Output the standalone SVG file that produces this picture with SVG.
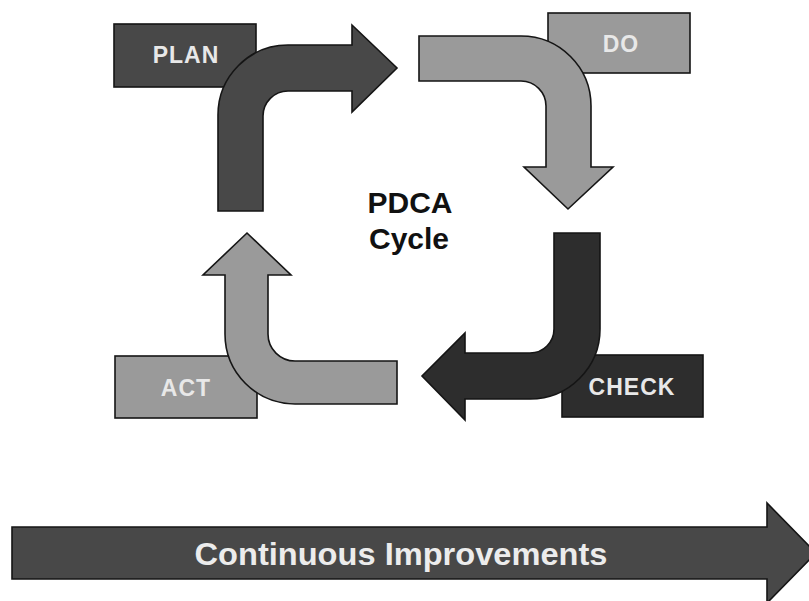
<svg xmlns="http://www.w3.org/2000/svg" width="809" height="601" viewBox="0 0 809 601">
<style>
.box{stroke:#151515;stroke-width:1.6}
.dark{fill:#484848}
.darker{fill:#2d2d2d}
.light{fill:#9a9a9a}
.arr{stroke:#151515;stroke-width:1.6;stroke-linejoin:miter}
.lbl{font-family:"Liberation Sans",Arial,sans-serif;font-weight:bold;font-size:23px;fill:#e8e8e8;text-anchor:middle;letter-spacing:1px}
.ttl{font-family:"Liberation Sans",Arial,sans-serif;font-weight:bold;font-size:30px;fill:#111;text-anchor:middle}
</style>
<rect width="809" height="601" fill="#ffffff"/>
<g id="plan">
<rect class="box dark" x="114" y="24" width="142" height="63"/>
<text class="lbl" x="186" y="63">PLAN</text>
</g>
<g id="do">
<rect class="box light" x="548" y="13" width="142" height="60"/>
<text class="lbl" x="621" y="52">DO</text>
</g>
<g id="check">
<rect class="box darker" x="562" y="355" width="141" height="62"/>
<text class="lbl" x="632" y="395">CHECK</text>
</g>
<g id="act">
<rect class="box light" x="115" y="356" width="142" height="62"/>
<text class="lbl" x="186" y="396">ACT</text>
</g>
<g id="connectors">
<path class="arr dark" d="M218 211 L218 115 A70 70 0 0 1 288 45 L352 45 L352 25 L397 68 L352 112 L352 91 L288 91 A25 25 0 0 0 263 116 L263 211 Z"/>
<path class="arr light" d="M419 36 L521 36 A70 70 0 0 1 591 106 L591 167 L613 167 L568 209 L524 167 L546 167 L546 106 A25 25 0 0 0 521 81 L419 81 Z"/>
<path class="arr darker" d="M554 233 L600 233 L600 329 A70 70 0 0 1 530 399 L465 399 L465 420 L422 376 L465 333 L465 353 L530 353 A24 24 0 0 0 554 329 Z"/>
<path class="arr light" d="M397 361 L397 404 L295 404 A70 70 0 0 1 225 334 L225 275 L203 275 L247 233 L291 275 L268 275 L268 334 A27 27 0 0 0 295 361 Z"/>
</g>
<g id="pdca">
<text class="ttl" x="410" y="213">PDCA</text>
<text class="ttl" x="409" y="249">Cycle</text>
</g>
<g id="continuous">
<path class="arr dark" d="M12 527 L767 527 L767 503 L816 553 L767 603 L767 579 L12 579 Z"/>
<text x="401" y="565" font-family="'Liberation Sans',Arial,sans-serif" font-weight="bold" font-size="32" fill="#ececec" text-anchor="middle" textLength="413" lengthAdjust="spacingAndGlyphs">Continuous Improvements</text>
</g>
</svg>
